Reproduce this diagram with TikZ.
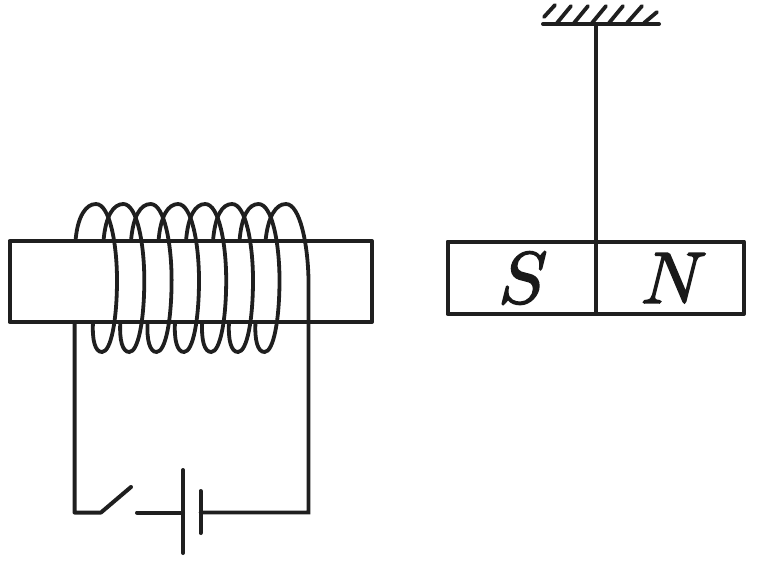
\documentclass[tikz,border=0pt]{standalone}
\tikzset{
  ln/.style={line width=4pt,line cap=round,line join=round,black!88},
  thinln/.style={line width=3.8pt,line cap=round,black!88},
  pole/.style={inner sep=0pt,scale=7.3,black!90}
}
\newcommand{\heavytext}[1]{\special{pdf:code 2 Tr 0.22 w}#1\special{pdf:code 0 Tr}}
\begin{document}
\begin{tikzpicture}[x=1pt,y=-1pt]
\useasboundingbox (0,0) rectangle (759,565);
% iron core
\draw[ln] (9.5,241) rectangle (372,322);
% coil
\foreach \p/\s in {96/75.5,123.3/103.5,150.6/131,178/158.5,205.2/186,232/213,258.5/239.5}{
  \draw[thinln] (\s,241) .. controls (\s+2,216) and (\p-10,204) .. (\p,204)
    .. controls (\p+14,204) and (\p+21,245) .. (\p+21,280)
    .. controls (\p+21,320) and (\p+15,352) .. (\p+6,352)
    .. controls (\p-1,352) and (\p-4,340) .. (\p-3,322);
}
% last turn and circuit
\coordinate (cL) at (74.5,322);
\coordinate (swA) at (101,512.5);
\coordinate (swB) at (131,487);
\coordinate (batL) at (183,512.5);
\coordinate (batR) at (200.5,512.5);
\draw[thinln] (265.5,241) .. controls (268,216) and (276,204) .. (286,204)
  .. controls (300,204) and (308,245) .. (308.5,280) -- (308.5,512.5) -- (batR);
\draw[ln] (cL) -- (74.5,512.5) -- (swA) -- (swB);
\draw[ln] (137,512.5) -- (batL);
\draw[ln] (183,470) -- (183,553);
\draw[ln] (200.5,491) -- (200.5,533);
% suspended magnet
\draw[ln] (447.5,241.5) rectangle (744,314);
\coordinate (ceil) at (596,24);
\draw[thinln] (ceil) -- (596,314);
\draw[ln] (543,24) -- (659,24);
\foreach \xa/\ya/\xb/\yb in {544/17/555/5,557/23/571/6,574/23/588/6,592/23/606/6,609/23/623/6,627/23/642/6,644/23/657/12}{
  \draw[thinln] (\xa,\ya) -- (\xb,\yb);
}
\node[pole] (S) at (523,278) {\heavytext{$S$}};
\node[pole] (N) at (674,278) {\heavytext{$N$}};
\end{tikzpicture}
\end{document}
